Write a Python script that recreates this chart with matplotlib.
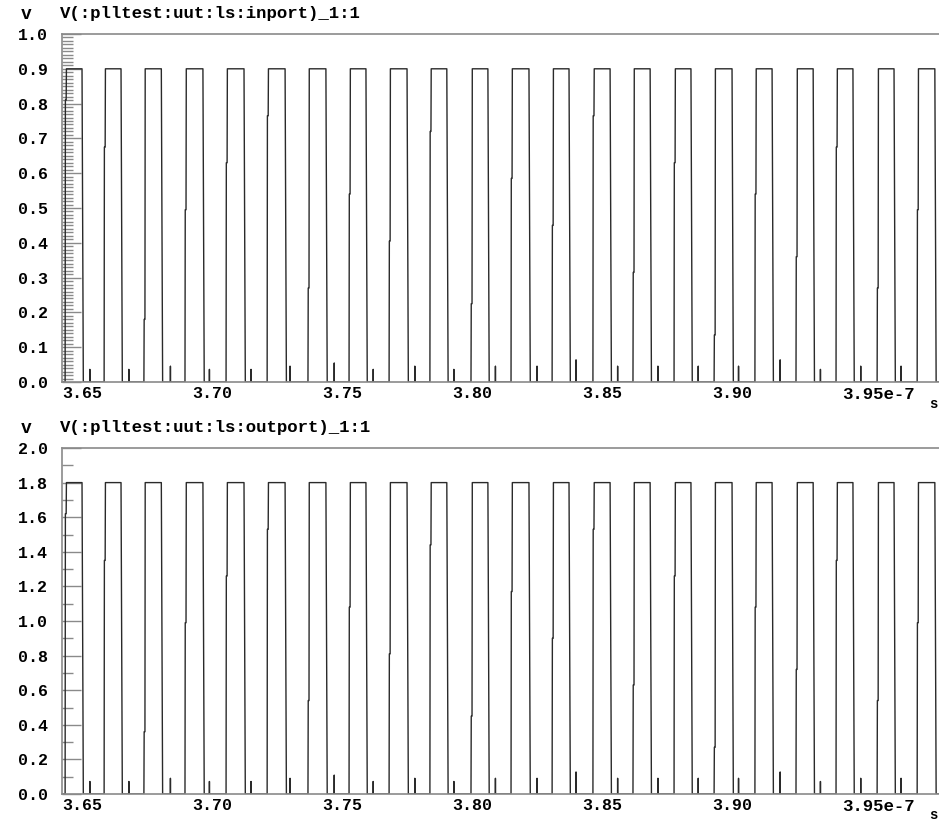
import numpy as np
import matplotlib
matplotlib.use('Agg')
import matplotlib.pyplot as plt
from matplotlib.ticker import MultipleLocator, FixedLocator

# Rising edge start times of each pulse (units of 1e-7 s)
rise_t = [3.6435, 3.6585, 3.6738, 3.6896, 3.7054, 3.7212, 3.7369, 3.7527,
          3.7681, 3.7838, 3.7996, 3.8150, 3.8308, 3.8465, 3.8619, 3.8777,
          3.8931, 3.9088, 3.9246, 3.9400, 3.9558, 3.9712]
# Falling edge start times
fall_t = [3.6500, 3.6650, 3.6805, 3.6965, 3.7123, 3.7281, 3.7438, 3.7592,
          3.7750, 3.7903, 3.8061, 3.8219, 3.8373, 3.8531, 3.8685, 3.8842,
          3.9000, 3.9154, 3.9312, 3.9465, 3.9623, 3.9780]
# height (fraction of high level) where the rising edge has its little jog
kink_h = [0.90, 0.75, 0.20, 0.55, 0.70, 0.85, 0.30, 0.60, 0.45, 0.80, 0.25,
          0.65, 0.50, 0.85, 0.35, 0.70, 0.15, 0.60, 0.40, 0.75, 0.30, 0.55]
# small glitches sitting in the low parts (time, fraction of high level)
spike_t = [3.6530, 3.6680, 3.6840, 3.6990, 3.7150, 3.7300, 3.7470, 3.7620,
           3.7780, 3.7930, 3.8090, 3.8250, 3.8400, 3.8560, 3.8715, 3.8870,
           3.9025, 3.9185, 3.9340, 3.9495, 3.9650]
spike_h = [0.04, 0.04, 0.05, 0.04, 0.04, 0.05, 0.06, 0.04, 0.05, 0.04, 0.05,
           0.05, 0.07, 0.05, 0.05, 0.05, 0.05, 0.07, 0.04, 0.05, 0.05]

x_ticks = [3.65, 3.70, 3.75, 3.80, 3.85, 3.90, 3.95]
x_labels = ['3.65', '3.70', '3.75', '3.80', '3.85', '3.90', '']
last_label = '3.95e-7'

panels = [
    ('V(:plltest:uut:ls:inport)_1:1', 0.9, 1.0, 0.1, 0.01),
    ('V(:plltest:uut:ls:outport)_1:1', 1.8, 2.0, 0.2, 0.1),
]

FONT = 'Liberation Mono'
axis_col = '#8a8a8a'
wave_col = '#2a2a2a'


def build_wave(level):
    ts = [3.6423]
    vs = [0.0]
    for r, f, k in zip(rise_t, fall_t, kink_h):
        # low segment with its glitch before the next rise
        for st, sh in zip(spike_t, spike_h):
            if ts[-1] < st < r:
                ts += [st, st, st]
                vs += [0.0, sh * level, 0.0]
        ts += [r, r + 0.0001, r + 0.0004, r + 0.0005, f, f + 0.0005]
        vs += [0.0, k * level, k * level, level, level, 0.0]
    ts.append(3.9800)
    vs.append(0.0)
    return np.array(ts), np.array(vs)


fig = plt.figure(figsize=(9.39, 8.24), dpi=100)
ax_pos = [[62 / 939, 1 - 382 / 824, 1 - 62 / 939, 348 / 824],
          [62 / 939, 1 - 794 / 824, 1 - 62 / 939, 346 / 824]]

for i, (title, level, ytop, major, minor) in enumerate(panels):
    ax = fig.add_axes(ax_pos[i])
    t, v = build_wave(level)
    ax.plot(t, v, color=wave_col, lw=1.0)
    ax.set_xlim(3.6423, 3.9796)
    ax.set_ylim(0, ytop)

    for s in ['left', 'bottom', 'top']:
        ax.spines[s].set_color(axis_col)
        ax.spines[s].set_linewidth(1.2)
    ax.spines['right'].set_visible(False)

    ax.yaxis.set_major_locator(MultipleLocator(major))
    ax.yaxis.set_minor_locator(MultipleLocator(minor))
    ax.tick_params(axis='y', which='major', direction='in', length=14,
                   color=axis_col, width=1, pad=10)
    ax.tick_params(axis='y', which='minor', direction='in', length=8,
                   color=axis_col, width=1)
    ax.set_yticklabels([f'{y:.1f}' for y in ax.get_yticks()],
                       family=FONT, fontweight='bold', fontsize=12)

    ax.xaxis.set_major_locator(FixedLocator(x_ticks))
    ax.tick_params(axis='x', which='both', length=0, pad=3)
    ax.set_xticklabels(x_labels, family=FONT, fontweight='bold', fontsize=12)
    ax.annotate(last_label, xy=(x_ticks[-1], 0), xycoords=('data', 'axes fraction'),
                xytext=(-14, -3.5), textcoords='offset points', ha='left', va='top',
                family=FONT, fontweight='bold', fontsize=12.5, annotation_clip=False)

    ax.text(-0.047, 1.055, 'v', transform=ax.transAxes, family=FONT,
            fontweight='bold', fontsize=13, ha='left', va='center')
    ax.text(-0.002, 1.06, title, transform=ax.transAxes, family=FONT,
            fontweight='bold', fontsize=12.5, ha='left', va='center')
    ax.text(0.993, -0.062, 's', transform=ax.transAxes, family=FONT,
            fontweight='bold', fontsize=10, ha='center', va='center')

fig.savefig('out.png', dpi=100)
